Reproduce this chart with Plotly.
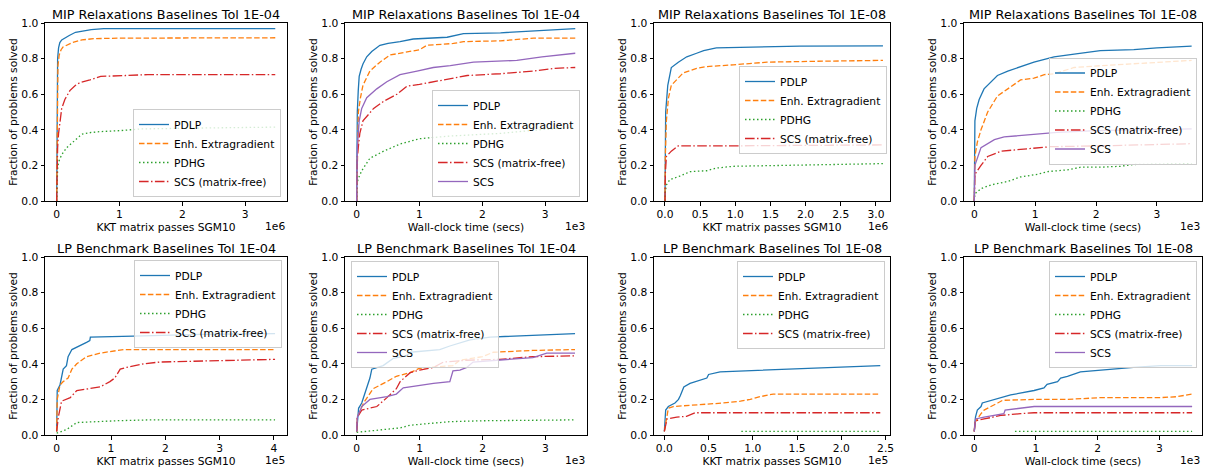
import plotly.graph_objects as go

# ---------------- data (x in displayed units: panel scale factor shown as "1eN") ----------------
# Panel 1: MIP Relaxations Tol 1E-04, KKT passes (1e6)
p1_pdlp_x = [0, 0.003, 0.008, 0.015, 0.03, 0.05, 0.08, 0.12, 0.2, 0.3, 0.4, 0.55, 0.75, 3.48]
p1_pdlp_y = [0, 0.5, 0.7, 0.8, 0.86, 0.89, 0.905, 0.915, 0.93, 0.948, 0.955, 0.963, 0.968, 0.968]
p1_enh_x = [0, 0.005, 0.012, 0.02, 0.04, 0.07, 0.1, 0.18, 0.25, 0.4, 0.6, 1.0, 3.48]
p1_enh_y = [0, 0.4, 0.65, 0.76, 0.82, 0.85, 0.865, 0.88, 0.89, 0.905, 0.912, 0.915, 0.917]
p1_pdhg_x = [0, 0.005, 0.015, 0.03, 0.08, 0.16, 0.25, 0.32, 0.4, 0.55, 0.7, 1.0, 1.35, 2.3, 3.48]
p1_pdhg_y = [0, 0.1, 0.18, 0.22, 0.26, 0.3, 0.33, 0.35, 0.375, 0.385, 0.39, 0.395, 0.405, 0.41, 0.415]
p1_scsmf_x = [0, 0.005, 0.015, 0.03, 0.05, 0.08, 0.13, 0.21, 0.3, 0.37, 0.53, 0.7, 1.1, 1.45, 3.48]
p1_scsmf_y = [0, 0.15, 0.3, 0.38, 0.45, 0.52, 0.57, 0.62, 0.65, 0.665, 0.68, 0.7, 0.705, 0.71, 0.71]

# Panel 2: MIP Relaxations Tol 1E-04, wall-clock (1e3)
p2_pdlp_x = [0, 0.005, 0.01, 0.025, 0.04, 0.07, 0.1, 0.16, 0.24, 0.37, 0.5, 0.69, 0.9, 1.44, 1.7, 2.29, 2.82, 3.48]
p2_pdlp_y = [0, 0.35, 0.5, 0.62, 0.7, 0.74, 0.77, 0.81, 0.84, 0.875, 0.885, 0.895, 0.91, 0.92, 0.94, 0.945, 0.955, 0.968]
p2_enh_x = [0, 0.01, 0.027, 0.06, 0.1, 0.21, 0.37, 0.53, 0.74, 1.0, 1.12, 1.54, 1.7, 2.29, 2.82, 3.48]
p2_enh_y = [0, 0.3, 0.5, 0.58, 0.65, 0.73, 0.78, 0.82, 0.835, 0.85, 0.875, 0.885, 0.895, 0.9, 0.915, 0.915]
p2_pdhg_x = [0, 0.005, 0.03, 0.08, 0.21, 0.43, 0.69, 1.0, 1.49, 2.29, 2.9, 3.48]
p2_pdhg_y = [0, 0.1, 0.13, 0.17, 0.24, 0.28, 0.32, 0.35, 0.365, 0.38, 0.4, 0.415]
p2_scsmf_x = [0, 0.01, 0.05, 0.1, 0.27, 0.43, 0.64, 0.8, 1.0, 1.22, 1.49, 1.76, 2.29, 2.82, 3.14, 3.48]
p2_scsmf_y = [0, 0.25, 0.38, 0.45, 0.52, 0.56, 0.6, 0.645, 0.655, 0.67, 0.69, 0.705, 0.715, 0.73, 0.745, 0.75]
p2_scs_x = [0, 0.01, 0.04, 0.08, 0.16, 0.32, 0.48, 0.69, 0.96, 1.22, 1.49, 1.86, 2.55, 2.95, 3.48]
p2_scs_y = [0, 0.3, 0.45, 0.52, 0.58, 0.63, 0.67, 0.71, 0.73, 0.75, 0.76, 0.78, 0.79, 0.81, 0.83]

# Panel 3: MIP Relaxations Tol 1E-08, KKT passes (1e6)
p3_pdlp_x = [0, 0.003, 0.01, 0.04, 0.09, 0.19, 0.31, 0.45, 0.55, 0.73, 1.2, 1.92, 3.1]
p3_pdlp_y = [0, 0.35, 0.5, 0.65, 0.75, 0.78, 0.81, 0.83, 0.845, 0.86, 0.865, 0.87, 0.872]
p3_enh_x = [0, 0.005, 0.02, 0.05, 0.09, 0.21, 0.26, 0.45, 0.59, 0.97, 1.45, 2.16, 3.1]
p3_enh_y = [0, 0.25, 0.45, 0.58, 0.65, 0.7, 0.72, 0.745, 0.755, 0.765, 0.78, 0.785, 0.79]
p3_pdhg_x = [0, 0.005, 0.02, 0.07, 0.21, 0.36, 0.59, 0.73, 0.97, 1.92, 3.1]
p3_pdhg_y = [0, 0.05, 0.09, 0.12, 0.14, 0.165, 0.17, 0.185, 0.195, 0.2, 0.21]
p3_scsmf_x = [0, 0.005, 0.02, 0.09, 0.19, 1.0, 3.1]
p3_scsmf_y = [0, 0.15, 0.25, 0.28, 0.31, 0.31, 0.315]

# Panel 4: MIP Relaxations Tol 1E-08, wall-clock (1e3)
p4_pdlp_x = [0, 0.005, 0.01, 0.04, 0.08, 0.16, 0.27, 0.38, 0.55, 0.76, 0.98, 1.2, 1.31, 1.64, 2.07, 2.62, 3.0, 3.57]
p4_pdlp_y = [0, 0.3, 0.45, 0.52, 0.57, 0.63, 0.67, 0.705, 0.73, 0.755, 0.78, 0.8, 0.81, 0.825, 0.845, 0.85, 0.86, 0.87]
p4_enh_x = [0, 0.01, 0.05, 0.11, 0.22, 0.38, 0.55, 0.76, 0.98, 1.15, 1.31, 1.64, 2.07, 2.62, 3.57]
p4_enh_y = [0, 0.25, 0.33, 0.4, 0.5, 0.59, 0.63, 0.68, 0.69, 0.71, 0.715, 0.75, 0.76, 0.77, 0.79]
p4_pdhg_x = [0, 0.01, 0.11, 0.27, 0.55, 0.76, 1.04, 1.2, 1.53, 1.75, 2.07, 2.4, 2.62, 3.57]
p4_pdhg_y = [0, 0.04, 0.07, 0.09, 0.11, 0.135, 0.15, 0.165, 0.175, 0.19, 0.19, 0.195, 0.205, 0.21]
p4_scsmf_x = [0, 0.01, 0.11, 0.22, 0.44, 0.76, 0.98, 1.25, 2.07, 3.57]
p4_scsmf_y = [0, 0.15, 0.2, 0.25, 0.28, 0.29, 0.3, 0.305, 0.31, 0.322]
p4_scs_x = [0, 0.01, 0.11, 0.33, 0.49, 0.87, 1.09, 1.36, 2.0, 3.57]
p4_scs_y = [0, 0.2, 0.3, 0.345, 0.36, 0.37, 0.38, 0.385, 0.395, 0.405]

# Panel 5: LP Benchmark Tol 1E-04, KKT passes (1e5)
p5_pdlp_x = [0, 0.01, 0.06, 0.12, 0.18, 0.21, 0.28, 0.43, 0.55, 0.61, 0.62, 1.41, 2.64, 4.02]
p5_pdlp_y = [0.02, 0.25, 0.28, 0.37, 0.39, 0.44, 0.48, 0.5, 0.52, 0.53, 0.55, 0.555, 0.565, 0.57]
p5_enh_x = [0, 0.01, 0.06, 0.12, 0.21, 0.28, 0.37, 0.55, 0.8, 1.1, 1.23, 4.02]
p5_enh_y = [0.02, 0.2, 0.28, 0.3, 0.32, 0.37, 0.4, 0.44, 0.46, 0.475, 0.48, 0.48]
p5_pdhg_x = [0, 0.18, 0.37, 0.67, 1.1, 1.72, 4.02]
p5_pdhg_y = [0.01, 0.03, 0.07, 0.075, 0.08, 0.085, 0.085]
p5_scsmf_x = [0, 0.03, 0.09, 0.25, 0.37, 0.61, 0.8, 0.86, 0.98, 1.07, 1.17, 1.29, 1.6, 1.9, 2.64, 4.02]
p5_scsmf_y = [0.02, 0.1, 0.19, 0.21, 0.25, 0.26, 0.27, 0.28, 0.3, 0.32, 0.37, 0.38, 0.4, 0.41, 0.415, 0.425]

# Panel 6: LP Benchmark Tol 1E-04, wall-clock (1e3)
p6_pdlp_x = [0, 0.03, 0.08, 0.13, 0.19, 0.21, 0.24, 0.42, 0.58, 0.79, 0.85, 1.32, 1.48, 1.8, 2.12, 3.47]
p6_pdlp_y = [0.02, 0.15, 0.18, 0.23, 0.3, 0.32, 0.37, 0.39, 0.43, 0.445, 0.465, 0.48, 0.5, 0.535, 0.55, 0.57]
p6_enh_x = [0, 0.01, 0.11, 0.26, 0.48, 0.63, 0.85, 1.0, 1.53, 1.64, 2.0, 2.17, 2.8, 3.47]
p6_enh_y = [0.02, 0.1, 0.18, 0.26, 0.3, 0.33, 0.35, 0.375, 0.39, 0.42, 0.44, 0.465, 0.475, 0.48]
p6_pdhg_x = [0, 0.42, 0.69, 0.85, 1.22, 1.48, 2.0, 3.47]
p6_pdhg_y = [0.015, 0.03, 0.04, 0.055, 0.065, 0.075, 0.08, 0.085]
p6_scsmf_x = [0, 0.01, 0.08, 0.32, 0.48, 0.63, 0.69, 0.85, 1.0, 1.22, 1.38, 1.75, 2.27, 2.8, 3.47]
p6_scsmf_y = [0.02, 0.1, 0.14, 0.16, 0.21, 0.26, 0.3, 0.35, 0.365, 0.38, 0.41, 0.42, 0.425, 0.44, 0.445]
p6_scs_x = [0, 0.01, 0.08, 0.21, 0.48, 0.63, 0.74, 1.0, 1.22, 1.48, 1.53, 1.64, 1.75, 1.85, 2.27, 2.8, 3.02, 3.47]
p6_scs_y = [0.02, 0.1, 0.16, 0.2, 0.215, 0.23, 0.265, 0.28, 0.29, 0.3, 0.36, 0.365, 0.38, 0.41, 0.42, 0.435, 0.46, 0.46]

# Panel 7: LP Benchmark Tol 1E-08, KKT passes (1e5)
p7_pdlp_x = [0, 0.015, 0.045, 0.12, 0.16, 0.18, 0.22, 0.29, 0.48, 0.5, 0.63, 1.16, 1.91, 2.44]
p7_pdlp_y = [0.02, 0.14, 0.16, 0.18, 0.2, 0.22, 0.27, 0.29, 0.32, 0.34, 0.355, 0.365, 0.38, 0.39]
p7_enh_x = [0, 0.01, 0.03, 0.045, 0.1, 0.4, 0.67, 0.86, 0.97, 1.08, 1.23, 2.44]
p7_enh_y = [0.02, 0.05, 0.13, 0.15, 0.16, 0.17, 0.18, 0.19, 0.2, 0.215, 0.23, 0.23]
p7_pdhg_x = [0.87, 2.44]
p7_pdhg_y = [0.02, 0.02]
p7_scsmf_x = [0, 0.03, 0.14, 0.25, 0.35, 2.44]
p7_scsmf_y = [0.02, 0.09, 0.1, 0.105, 0.125, 0.125]

# Panel 8: LP Benchmark Tol 1E-08, wall-clock (1e3)
p8_pdlp_x = [0, 0.02, 0.05, 0.11, 0.13, 0.32, 0.59, 0.97, 1.13, 1.18, 1.35, 1.4, 1.51, 1.72, 2.05, 2.58, 3.02, 3.53]
p8_pdlp_y = [0.02, 0.1, 0.14, 0.16, 0.18, 0.2, 0.225, 0.25, 0.265, 0.285, 0.3, 0.32, 0.33, 0.355, 0.365, 0.38, 0.39, 0.39]
p8_enh_x = [0, 0.01, 0.11, 0.16, 0.38, 0.46, 0.97, 1.51, 2.05, 3.02, 3.28, 3.53]
p8_enh_y = [0.02, 0.07, 0.12, 0.14, 0.18, 0.195, 0.2, 0.2, 0.21, 0.21, 0.215, 0.23]
p8_pdhg_x = [0.66, 3.53]
p8_pdhg_y = [0.02, 0.02]
p8_scsmf_x = [0, 0.02, 0.16, 0.43, 0.75, 0.97, 3.53]
p8_scsmf_y = [0.02, 0.08, 0.09, 0.11, 0.12, 0.125, 0.125]
p8_scs_x = [0, 0.02, 0.16, 0.48, 0.5, 0.97, 3.53]
p8_scs_y = [0.02, 0.09, 0.1, 0.12, 0.14, 0.16, 0.16]

panel_titles = [
    "MIP Relaxations Baselines Tol 1E-04", "MIP Relaxations Baselines Tol 1E-04",
    "MIP Relaxations Baselines Tol 1E-08", "MIP Relaxations Baselines Tol 1E-08",
    "LP Benchmark Baselines Tol 1E-04", "LP Benchmark Baselines Tol 1E-04",
    "LP Benchmark Baselines Tol 1E-08", "LP Benchmark Baselines Tol 1E-08",
]
x_labels = ["KKT matrix passes SGM10", "Wall-clock time (secs)"] * 4
scale_labels = ["1e6", "1e3", "1e6", "1e3", "1e5", "1e3", "1e5", "1e3"]
y_label = "Fraction of problems solved"
y_ticks = [0.0, 0.2, 0.4, 0.6, 0.8, 1.0]

panels = [
    [("PDLP", p1_pdlp_x, p1_pdlp_y), ("Enh. Extragradient", p1_enh_x, p1_enh_y),
     ("PDHG", p1_pdhg_x, p1_pdhg_y), ("SCS (matrix-free)", p1_scsmf_x, p1_scsmf_y)],
    [("PDLP", p2_pdlp_x, p2_pdlp_y), ("Enh. Extragradient", p2_enh_x, p2_enh_y),
     ("PDHG", p2_pdhg_x, p2_pdhg_y), ("SCS (matrix-free)", p2_scsmf_x, p2_scsmf_y),
     ("SCS", p2_scs_x, p2_scs_y)],
    [("PDLP", p3_pdlp_x, p3_pdlp_y), ("Enh. Extragradient", p3_enh_x, p3_enh_y),
     ("PDHG", p3_pdhg_x, p3_pdhg_y), ("SCS (matrix-free)", p3_scsmf_x, p3_scsmf_y)],
    [("PDLP", p4_pdlp_x, p4_pdlp_y), ("Enh. Extragradient", p4_enh_x, p4_enh_y),
     ("PDHG", p4_pdhg_x, p4_pdhg_y), ("SCS (matrix-free)", p4_scsmf_x, p4_scsmf_y),
     ("SCS", p4_scs_x, p4_scs_y)],
    [("PDLP", p5_pdlp_x, p5_pdlp_y), ("Enh. Extragradient", p5_enh_x, p5_enh_y),
     ("PDHG", p5_pdhg_x, p5_pdhg_y), ("SCS (matrix-free)", p5_scsmf_x, p5_scsmf_y)],
    [("PDLP", p6_pdlp_x, p6_pdlp_y), ("Enh. Extragradient", p6_enh_x, p6_enh_y),
     ("PDHG", p6_pdhg_x, p6_pdhg_y), ("SCS (matrix-free)", p6_scsmf_x, p6_scsmf_y),
     ("SCS", p6_scs_x, p6_scs_y)],
    [("PDLP", p7_pdlp_x, p7_pdlp_y), ("Enh. Extragradient", p7_enh_x, p7_enh_y),
     ("PDHG", p7_pdhg_x, p7_pdhg_y), ("SCS (matrix-free)", p7_scsmf_x, p7_scsmf_y)],
    [("PDLP", p8_pdlp_x, p8_pdlp_y), ("Enh. Extragradient", p8_enh_x, p8_enh_y),
     ("PDHG", p8_pdhg_x, p8_pdhg_y), ("SCS (matrix-free)", p8_scsmf_x, p8_scsmf_y),
     ("SCS", p8_scs_x, p8_scs_y)],
]

# ---------------- styles / layout ----------------
W, H = 1210, 468
FONT = "DejaVu Sans"
FS = 10.7      # tick / label / legend font size (px)
FS_T = 12.8    # title font size (px)
colors = {"PDLP": "#1f77b4", "Enh. Extragradient": "#ff7f0e", "PDHG": "#2ca02c",
          "SCS (matrix-free)": "#d62728", "SCS": "#9467bd"}
dashes = {"PDLP": "solid", "Enh. Extragradient": "5.5px,2.4px", "PDHG": "1.5px,2.5px",
          "SCS (matrix-free)": "9.6px,2.4px,1.5px,2.4px", "SCS": "solid"}

col_px = [(45, 287), (345, 587), (654, 890), (964, 1202)]
row_px = [(23, 201), (257, 435)]
x_ranges = [(-0.186, 3.667), (-0.186, 3.667), (-0.156, 3.2), (-0.169, 3.74),
            (-0.215, 4.24), (-0.186, 3.66), (-0.117, 2.55), (-0.166, 3.69)]
x_dticks = [1, 1, 0.5, 1, 1, 1, 0.5, 1]
x_fmts = ["d", "d", ".1f", "d", "d", "d", ".1f", "d"]
# legend: (x px, y px, xanchor, yanchor)
legend_pos = [(281, 197, "right", "bottom"), (580, 197, "right", "bottom"),
              (887, 110, "right", "middle"), (1197, 111, "right", "middle"),
              (282, 260, "right", "top"), (351, 261, "left", "top"),
              (885, 261, "right", "top"), (1197, 261, "right", "top")]

fig = go.Figure()
annotations = []
for i, series in enumerate(panels):
    k = i + 1
    sfx = "" if k == 1 else str(k)
    lg = "legend" if k == 1 else f"legend{k}"
    for name, xs, ys in series:
        fig.add_trace(go.Scatter(
            x=xs, y=ys, mode="lines", name=name,
            line=dict(color=colors[name], width=1.3, dash=dashes[name]),
            xaxis=f"x{sfx}", yaxis=f"y{sfx}", legend=lg, hoverinfo="skip"))
    r, c = divmod(i, 4)
    x0, x1 = col_px[c]
    y0, y1 = row_px[r]
    axis_common = dict(showline=True, linecolor="black", linewidth=1, mirror=True,
                       ticks="outside", ticklen=3.5, tickwidth=1, tickcolor="black",
                       showgrid=False, zeroline=False,
                       tickfont=dict(family=FONT, size=FS, color="black"))
    fig.layout[f"xaxis{sfx}"] = dict(
        domain=[x0 / W, x1 / W], anchor=f"y{sfx}", range=list(x_ranges[i]),
        tick0=0, dtick=x_dticks[i], tickformat=x_fmts[i],
        title=dict(text=x_labels[i], font=dict(family=FONT, size=FS, color="black"), standoff=1),
        **axis_common)
    fig.layout[f"yaxis{sfx}"] = dict(
        domain=[1 - y1 / H, 1 - y0 / H], anchor=f"x{sfx}", range=[0, 1],
        tickvals=y_ticks, tickformat=".1f",
        title=dict(text=y_label, font=dict(family=FONT, size=FS, color="black"), standoff=1),
        **axis_common)
    lx, ly, xa, ya = legend_pos[i]
    fig.layout[lg] = dict(
        x=lx / W, y=1 - ly / H, xanchor=xa, yanchor=ya, xref="paper", yref="paper",
        bgcolor="rgba(255,255,255,0.8)", bordercolor="#cccccc", borderwidth=1,
        font=dict(family=FONT, size=FS, color="black"), traceorder="normal")
    annotations.append(dict(
        text=panel_titles[i], xref="paper", yref="paper",
        x=(x0 + x1) / 2 / W, y=1 - (y0 - 9) / H, xanchor="center", yanchor="middle",
        showarrow=False, font=dict(family=FONT, size=FS_T, color="black")))
    annotations.append(dict(
        text=scale_labels[i], xref="paper", yref="paper",
        x=x1 / W, y=1 - (y1 + 25) / H, xanchor="right", yanchor="middle",
        showarrow=False, font=dict(family=FONT, size=FS, color="black")))

fig.update_layout(width=W, height=H, margin=dict(l=0, r=0, t=0, b=0),
                  paper_bgcolor="white", plot_bgcolor="white", template="none",
                  annotations=annotations, font=dict(family=FONT, size=FS, color="black"))
fig.write_html("out.html")
